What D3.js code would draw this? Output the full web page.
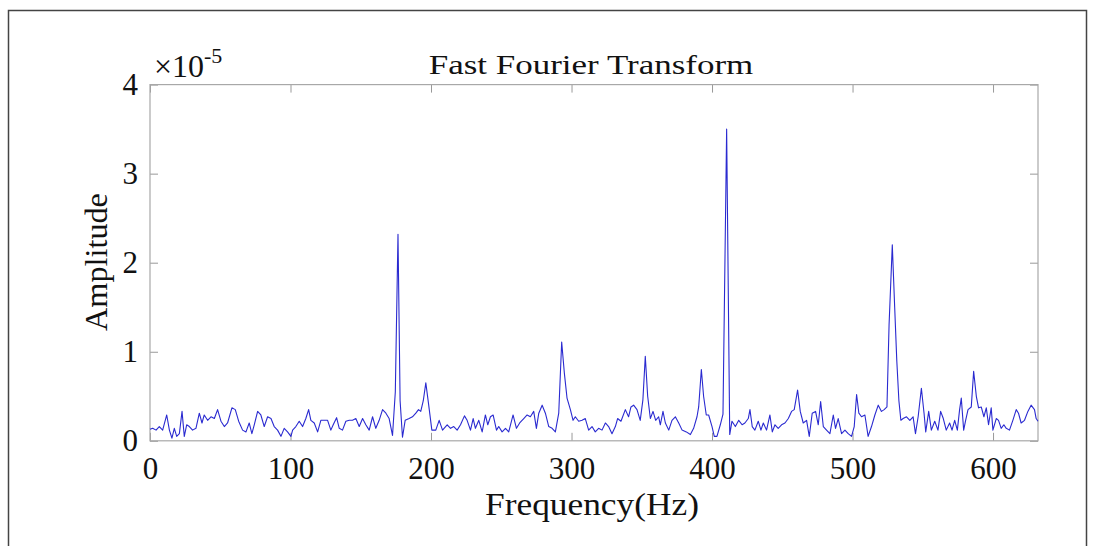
<!DOCTYPE html>
<html>
<head>
<meta charset="utf-8">
<script src="https://cdn.jsdelivr.net/npm/d3@7"></script>
<style>
  body { margin: 0; background: #fff; }
  svg { display: block; }
</style>
</head>
<body>
<div id="chart"></div>
<script>
// frequency in Hz, amplitude in units of 1e-5
const freqHz = [
  0, 1.9, 4.3, 6.6, 9.0, 11.9, 13.8, 15.6, 17.3, 19.0, 20.9, 22.8, 24.4, 26.1, 28.0,
  30.3, 32.7, 35.1, 37.0, 38.6, 41.0, 43.4, 45.8, 48.1, 50.5, 52.9, 55.2, 58.3, 60.7, 63.1,
  65.9, 68.3, 70.6, 72.5, 74.2, 76.6, 78.9, 81.3, 83.7, 86.1, 88.4, 90.8, 93.2, 95.5, 97.9,
  100.3, 101.5, 103.8, 106.2, 108.6, 110.9, 112.9, 114.5, 116.9, 119.3, 121.6, 124.0, 126.4, 128.7, 130.4,
  132.8, 134.7, 137.0, 139.4, 141.8, 144.1, 146.5, 148.9, 151.3, 153.6, 156.0, 158.4, 160.7, 163.1, 165.5,
  167.9, 170.2, 172.6, 174.6, 176.5, 178.0, 179.7, 181.6, 184.4, 186.8, 189.2, 191.1, 192.7, 194.5, 196.3,
  198.2, 200.6, 203.4, 205.8, 208.2,
  211.5, 213.9, 216.2, 218.6, 221.0, 223.8, 225.7, 228.1, 230.0, 231.6, 234.0, 236.4, 238.7, 240.4, 242.3,
  244.2, 246.6, 248.2, 250.6, 253.0, 255.3, 258.4, 260.8, 263.1, 266.0, 268.4, 270.7, 273.1, 275.0, 276.7,
  279.1, 281.4, 283.8, 286.2, 288.5, 290.9, 293.0, 294.9, 296.8, 299.2, 301.1, 302.7, 305.1, 307.5, 309.8,
  312.2, 314.6, 316.9, 319.3, 321.7, 324.1, 326.4, 328.8, 331.2, 332.8, 335.2, 338.3, 340.6, 342.3, 344.2,
  346.6, 348.9, 350.8, 352.5, 354.2, 356.1, 358.0, 359.9, 362.0, 363.2, 365.1, 366.8, 369.2, 371.5, 373.9,
  376.3, 378.7, 381.7, 384.6, 386.9, 389.3, 390.5, 392.4, 394.0, 395.9, 397.6, 400.0, 401.6, 403.5, 405.9,
  407.8, 410.4, 412.6, 414.2, 416.6, 419.0, 421.4,
  423.4, 425.8, 427.0, 428.6, 430.5, 432.9, 434.8, 436.5, 438.8, 441.2, 442.9, 444.8, 447.1, 449.5, 451.9,
  454.3, 456.6, 458.5, 460.9, 462.8, 464.9, 467.3, 469.2, 471.3, 473.7, 475.6, 477.3, 479.2, 481.5, 483.9,
  486.3, 487.9, 489.8, 492.2, 494.6, 496.9, 499.3, 501.2, 502.9, 504.5, 506.4, 508.8, 511.1, 513.5, 515.9,
  518.3, 520.6, 522.5, 524.5, 526.0, 528.3, 530.0, 531.5, 533.0, 534.4, 536.0, 538.4, 540.8, 543.1, 544.8,
  546.7, 549.0, 550.9, 552.1, 554.2, 556.1, 558.5, 560.8, 562.7, 564.6, 566.7, 569.1, 570.8, 572.7, 574.6,
  576.2, 577.4, 579.1, 580.5, 582.2, 584.5, 586.2, 588.1, 589.7, 591.6, 593.5, 595.2, 596.8, 598.7, 599.9,
  602.3, 603.9, 605.8, 607.7, 609.4, 611.7, 614.1, 616.5, 618.1, 620.0, 622.4, 624.8, 627.1, 629.5, 630.7,
  632.0
];

const amplitude = [
  0.13, 0.14, 0.12, 0.16, 0.12, 0.29, 0.12, 0.03, 0.14, 0.05, 0.08, 0.33, 0.05, 0.18, 0.16,
  0.12, 0.14, 0.31, 0.20, 0.29, 0.23, 0.27, 0.25, 0.35, 0.22, 0.16, 0.20, 0.37, 0.35, 0.22,
  0.12, 0.10, 0.20, 0.08, 0.18, 0.33, 0.29, 0.16, 0.27, 0.25, 0.16, 0.12, 0.05, 0.14, 0.10,
  0.05, 0.12, 0.16, 0.22, 0.16, 0.25, 0.35, 0.23, 0.20, 0.10, 0.23, 0.23, 0.23, 0.12, 0.18,
  0.26, 0.14, 0.12, 0.22, 0.23, 0.23, 0.25, 0.16, 0.25, 0.18, 0.12, 0.27, 0.14, 0.23, 0.35,
  0.31, 0.25, 0.06, 0.55, 2.32, 0.45, 0.04, 0.23, 0.25, 0.27, 0.31, 0.35, 0.33, 0.45, 0.65,
  0.42, 0.12, 0.12, 0.23, 0.12,
  0.18, 0.14, 0.16, 0.12, 0.18, 0.28, 0.23, 0.12, 0.25, 0.14, 0.23, 0.10, 0.29, 0.18, 0.27,
  0.29, 0.12, 0.16, 0.10, 0.14, 0.10, 0.29, 0.14, 0.20, 0.25, 0.29, 0.27, 0.33, 0.14, 0.31,
  0.40, 0.31, 0.16, 0.14, 0.10, 0.31, 1.11, 0.76, 0.48, 0.35, 0.23, 0.27, 0.22, 0.23, 0.25,
  0.12, 0.16, 0.10, 0.14, 0.12, 0.20, 0.16, 0.08, 0.16, 0.25, 0.22, 0.35, 0.27, 0.38, 0.40,
  0.35, 0.23, 0.46, 0.95, 0.50, 0.25, 0.33, 0.23, 0.27, 0.18, 0.33, 0.20, 0.12, 0.23, 0.27,
  0.20, 0.12, 0.10, 0.07, 0.14, 0.27, 0.38, 0.80, 0.50, 0.29, 0.29, 0.16, 0.05, 0.05, 0.18,
  0.30, 3.50, 0.07, 0.22, 0.16, 0.23, 0.18,
  0.20, 0.25, 0.35, 0.16, 0.12, 0.22, 0.12, 0.20, 0.12, 0.29, 0.10, 0.18, 0.14, 0.18, 0.20,
  0.25, 0.33, 0.35, 0.57, 0.33, 0.20, 0.23, 0.05, 0.31, 0.33, 0.18, 0.44, 0.16, 0.12, 0.08,
  0.29, 0.14, 0.25, 0.08, 0.12, 0.08, 0.05, 0.16, 0.52, 0.31, 0.27, 0.29, 0.05, 0.16, 0.29,
  0.40, 0.33, 0.35, 0.38, 1.30, 2.20, 1.50, 0.90, 0.45, 0.23, 0.25, 0.27, 0.23, 0.27, 0.08,
  0.27, 0.59, 0.31, 0.10, 0.33, 0.12, 0.22, 0.12, 0.33, 0.25, 0.12, 0.20, 0.12, 0.23, 0.12,
  0.35, 0.48, 0.12, 0.23, 0.35, 0.38, 0.78, 0.50, 0.37, 0.38, 0.27, 0.37, 0.18, 0.37, 0.12,
  0.25, 0.23, 0.14, 0.18, 0.14, 0.12, 0.23, 0.35, 0.31, 0.20, 0.23, 0.33, 0.40, 0.35, 0.25,
  0.22
];

const xTicks = [0, 100, 200, 300, 400, 500, 600];
const yTicks = [0, 1, 2, 3, 4];

const width = 1094, height = 546;
const margin = { top: 84.6, right: 56, bottom: 105.2, left: 150 };
const innerWidth = width - margin.left - margin.right;
const innerHeight = height - margin.top - margin.bottom;
const serif = "'Liberation Serif', 'DejaVu Serif', serif";

const data = freqHz.map((f, i) => ({ f, a: amplitude[i] }));

const svg = d3.select("#chart")
  .append("svg")
    .attr("width", width)
    .attr("height", height);

// outer frame of the figure (bottom edge lies outside the picture)
svg.append("path")
  .attr("d", "M8.5,546 V10.5 H1086.5 V546")
  .attr("fill", "none")
  .attr("stroke", "#444")
  .attr("stroke-width", 1.5);

const innerChart = svg.append("g")
  .attr("transform", `translate(${margin.left}, ${margin.top})`);

/* scales */
const xScale = d3.scaleLinear()
  .domain([0, 632])
  .range([0, innerWidth]);

const yScale = d3.scaleLinear()
  .domain([0, 4])
  .range([innerHeight, 0]);

/* axes, ticks pointing inward like matlab */
const tickCol = "#999";

const styleAxis = g => {
  g.attr("font-family", serif).attr("font-size", 31);
  g.select(".domain").remove();
  g.selectAll(".tick line").attr("stroke", tickCol).attr("stroke-width", 1);
  g.selectAll(".tick text").attr("fill", "#111");
};

// opposite side axes only carry tick marks
const marksOnly = g => {
  g.select(".domain").remove();
  g.selectAll(".tick text").remove();
  g.selectAll(".tick line").attr("stroke", tickCol).attr("stroke-width", 1);
};

innerChart.append("g")
  .attr("transform", `translate(0, ${innerHeight})`)
  .call(d3.axisBottom(xScale).tickValues(xTicks).tickSize(-8).tickPadding(16.5).tickFormat(d3.format("d")))
  .call(styleAxis);

innerChart.append("g")
  .call(d3.axisTop(xScale).tickValues(xTicks).tickSize(-8))
  .call(marksOnly);

innerChart.append("g")
  .call(d3.axisLeft(yScale).tickValues(yTicks).tickSize(-8).tickPadding(12).tickFormat(d3.format("d")))
  .call(styleAxis);

innerChart.append("g")
  .attr("transform", `translate(${innerWidth}, 0)`)
  .call(d3.axisRight(yScale).tickValues(yTicks).tickSize(-8))
  .call(marksOnly);

// axes box
innerChart.append("rect")
  .attr("width", innerWidth)
  .attr("height", innerHeight)
  .attr("fill", "none")
  .attr("stroke", "#a8a8a8")
  .attr("stroke-width", 1.2);

/* spectrum line */
const line = d3.line()
  .x(d => xScale(d.f))
  .y(d => yScale(d.a));

innerChart.append("path")
  .datum(data)
  .attr("fill", "none")
  .attr("stroke", "#2a2ad0")
  .attr("stroke-width", 1.1)
  .attr("stroke-linejoin", "round")
  .attr("d", line);

/* labels (the source font is a little wider than Times, hence the scaleX) */
svg.append("text")
  .attr("transform", "translate(591, 73.5) scale(1.25, 1)")
  .attr("text-anchor", "middle")
  .attr("font-family", serif)
  .attr("font-size", 28)
  .attr("fill", "#111")
  .text("Fast Fourier Transform");

svg.append("text")
  .attr("transform", "translate(592, 514.5) scale(1.14, 1)")
  .attr("text-anchor", "middle")
  .attr("font-family", serif)
  .attr("font-size", 31)
  .attr("fill", "#111")
  .text("Frequency(Hz)");

svg.append("text")
  .attr("transform", "translate(107, 262) rotate(-90) scale(1.04, 1)")
  .attr("text-anchor", "middle")
  .attr("font-family", serif)
  .attr("font-size", 31)
  .attr("fill", "#111")
  .text("Amplitude");

// exponent label
const expo = svg.append("text")
  .attr("x", 154).attr("y", 77)
  .attr("font-family", serif)
  .attr("font-size", 32)
  .attr("fill", "#111");
expo.append("tspan").text("\u00d710");
expo.append("tspan")
  .attr("dy", -14)
  .attr("font-size", 22)
  .text("-5");
</script>
</body>
</html>
